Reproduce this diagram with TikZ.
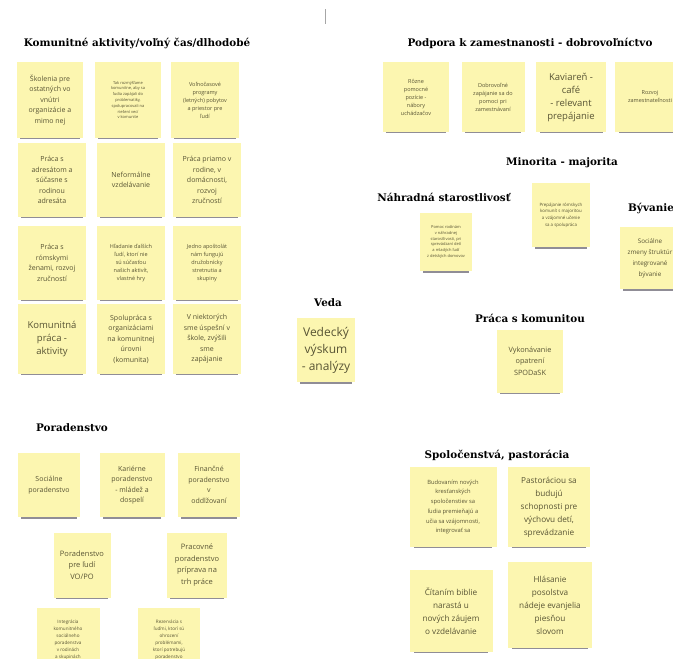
\documentclass[tikz,border=0pt]{standalone}
\usepackage{fontspec}
\setmainfont{Liberation Serif}
\newfontfamily\notefont{Open Sans}
\newfontfamily\headfont{DejaVu Serif}
\usepackage{xcolor}
\usepackage{tikz}
\usetikzlibrary{shadows}
\usetikzlibrary{positioning}
\definecolor{notefill}{RGB}{252,246,176}
\definecolor{notetext}{RGB}{88,84,52}
\definecolor{shadowgray}{RGB}{70,66,80}
\tikzstyle{note}=[rectangle,fill=notefill,text=notetext,align=center,inner sep=1pt,
   drop shadow={shadow xshift=0pt,shadow yshift=-5.5pt,shadow scale=0.9,opacity=0.6,fill=shadowgray},
   font=\notefont\fontsize{7}{10.5}\selectfont]
\tikzstyle{bignote}=[note,font=\notefont\fontsize{9.5}{13}\selectfont]
\tikzstyle{smallnote}=[note,font=\notefont\fontsize{5.5}{8}\selectfont]
\tikzstyle{tinynote}=[note,font=\notefont\fontsize{4}{5.8}\selectfont]
\tikzstyle{heading}=[font=\headfont\bfseries\fontsize{10.4}{12}\selectfont,text=black,inner sep=1pt]

\begin{document}
\begin{tikzpicture}[x=1pt,y=-1pt]

 \useasboundingbox[fill=white] (0,0) rectangle (673,659);

 \draw[black!35,line width=0.8pt] (325,9) -- (325,24);

 %komunitne aktivity
 \node[heading] (hkom) at (137,43) {Komunitné aktivity/voľný čas/dlhodobé};

  \foreach \x/\y/\w/\h/\name/\label in {50/100/66/76/k11/{Školenia pre\\ostatných vo\\vnútri\\organizácie a\\mimo nej}, 52/180/68/74/k21/{Práca s\\adresátom a\\súčasne s\\rodinou\\adresáta}, 131/180/68/74/k22/{Neformálne\\vzdelávanie}, 207/180/68/74/k23/{Práca priamo v\\rodine, v\\domácnosti,\\rozvoj\\zručností}, 52/263/68/74/k31/{Práca s\\rómskymi\\ženami, rozvoj\\zručností}, 131/339/68/70/k42/{Spolupráca s\\organizáciami\\na komunitnej\\úrovni\\(komunita)}, 207/339/68/70/k43/{V niektorých\\sme úspešní v\\škole, zvýšili\\sme\\zapájanie}}
          \node[note,minimum width=\w pt,minimum height=\h pt] (\name) at (\x,\y) {\label};

  \foreach \x/\y/\w/\h/\name/\label in {205/100/68/76/k13/{Voľnočasové\\programy\\(letných) pobytov\\a priestor pre\\ľudí}, 131/263/68/74/k32/{Hľadanie ďalších\\ľudí, ktorí nie\\sú súčasťou\\našich aktivít,\\vlastné hry}, 207/263/68/74/k33/{Jedno apoštolát\\nám fungujú\\družobnícky\\stretnutia a\\skupiny}}
          \node[smallnote,minimum width=\w pt,minimum height=\h pt] (\name) at (\x,\y) {\label};

  \foreach \x/\y/\w/\h/\name/\label in {128/100/66/76/k12/{Tak rozmýšľame\\komunitne, aby sa\\ľudia zapájali do\\problematiky,\\spolupracovali na\\riešení vecí\\v komunite}}
          \node[tinynote,minimum width=\w pt,minimum height=\h pt] (\name) at (\x,\y) {\label};

  \foreach \x/\y/\w/\h/\name/\label in {52/339/68/70/k41/{Komunitná\\práca -\\aktivity}}
          \node[bignote,minimum width=\w pt,minimum height=\h pt] (\name) at (\x,\y) {\label};

 %veda
 \node[heading] (hveda) at (328,303) {Veda};
 \node[bignote,minimum width=58pt,minimum height=64pt,font=\notefont\fontsize{12}{17}\selectfont] (veda) at (326,350) {Vedecký\\výskum\\- analýzy};

 %podpora k zamestnanosti
 \node[heading] (hzam) at (530,43) {Podpora k zamestnanosti - dobrovoľníctvo};

  \foreach \x/\y/\w/\h/\name/\label in {416/97/66/70/z1/{Rôzne\\pomocné\\pozície -\\nábory\\uchádzačov}, 493/97/63/70/z2/{Dobrovoľné\\zapájanie sa do\\pomoci pri\\zamestnávaní}, 650/97/70/70/z4/{Rozvoj\\zamestnateľnosti}}
          \node[smallnote,minimum width=\w pt,minimum height=\h pt] (\name) at (\x,\y) {\label};

  \foreach \x/\y/\w/\h/\name/\label in {571/97/70/70/z3/{Kaviareň -\\café\\- relevant\\prepájanie}}
          \node[bignote,minimum width=\w pt,minimum height=\h pt] (\name) at (\x,\y) {\label};

 %minorita, nahradna starostlivost, byvanie
 \node[heading] (hmin) at (562,163) {Minorita - majorita};
 \node[tinynote,minimum width=58pt,minimum height=64pt,font=\notefont\fontsize{4.4}{6.6}\selectfont] (min) at (561,215) {Prepájanie rómskych\\komunít s majoritou\\a vzájomné učenie\\sa a spolupráca};

 \node[heading] (hnahr) at (444,197) {Náhradná starostlivosť};
 \node[tinynote,minimum width=52pt,minimum height=58pt] (nahr) at (446,242) {Pomoc rodinám\\v náhradnej\\starostlivosti, pri\\sprevádzaní detí\\a mladých ľudí\\z detských domovov};

 \node[heading,anchor=west] (hbyv) at (627,208) {Bývanie};
 \node[note,minimum width=60pt,minimum height=62pt,font=\notefont\fontsize{6.3}{11}\selectfont] (byv) at (650,258) {Sociálne\\zmeny štruktúr\\integrované\\bývanie};

 %praca s komunitou
 \node[heading] (hkomu) at (530,318) {Práca s komunitou};
 \node[note,minimum width=66pt,minimum height=63pt,font=\notefont\fontsize{7.3}{11.5}\selectfont] (komu) at (530,361) {Vykonávanie\\opatrení\\SPODaSK};

 %poradenstvo
 \node[heading] (hpor) at (72,428) {Poradenstvo};

  \foreach \x/\y/\w/\h/\name/\label in {49/485/62/64/r1/{Sociálne\\poradenstvo}, 132/485/65/64/r2/{Kariérne\\poradenstvo\\- mládež a\\dospelí}, 209/485/62/64/r3/{Finančné\\poradenstvo\\v\\oddlžovaní}}
          \node[note,minimum width=\w pt,minimum height=\h pt] (\name) at (\x,\y) {\label};

  \foreach \x/\y/\w/\h/\name/\label in {82/565/57/65/r4/{Poradenstvo\\pre ľudí\\VO/PO}, 197/565/60/65/r5/{Pracovné\\poradenstvo\\príprava na\\trh práce}}
          \node[note,minimum width=\w pt,minimum height=\h pt,font=\notefont\fontsize{7.5}{11.5}\selectfont] (\name) at (\x,\y) {\label};

  \foreach \x/\y/\w/\h/\name/\label in {68/640/63/64/r6/{Integrácia\\komunitného\\sociálneho\\poradenstva\\v rodinách\\a skupinách}, 169/640/62/64/r7/{Rezervácia s\\ľuďmi, ktorí sú\\ohrození\\problémami,\\ktorí potrebujú\\poradenstvo}}
          \node[tinynote,minimum width=\w pt,minimum height=\h pt,font=\notefont\fontsize{4.6}{7}\selectfont] (\name) at (\x,\y) {\label};

 %spolocenstva
 \node[heading] (hspol) at (497,455) {Spoločenstvá, pastorácia};

  \foreach \x/\y/\w/\h/\name/\label in {453/507/87/80/s1/{Budovaním nových\\kresťanských\\spoločenstiev sa\\ľudia premieňajú a\\učia sa vzájomnosti,\\integrovať sa}}
          \node[smallnote,minimum width=\w pt,minimum height=\h pt,font=\notefont\fontsize{5.8}{9.7}\selectfont] (\name) at (\x,\y) {\label};

  \foreach \x/\y/\w/\h/\name/\label in {549/507/82/80/s2/{Pastoráciou sa\\budujú\\schopnosti pre\\výchovu detí,\\sprevádzanie}, 451/611/83/82/s3/{Čítaním biblie\\narastá u\\nových záujem\\o vzdelávanie}, 550/605/84/86/s4/{Hlásanie\\posolstva\\nádeje evanjelia\\piesňou\\slovom}}
          \node[note,minimum width=\w pt,minimum height=\h pt,font=\notefont\fontsize{8.2}{13}\selectfont] (\name) at (\x,\y) {\label};

\end{tikzpicture}
\end{document}
